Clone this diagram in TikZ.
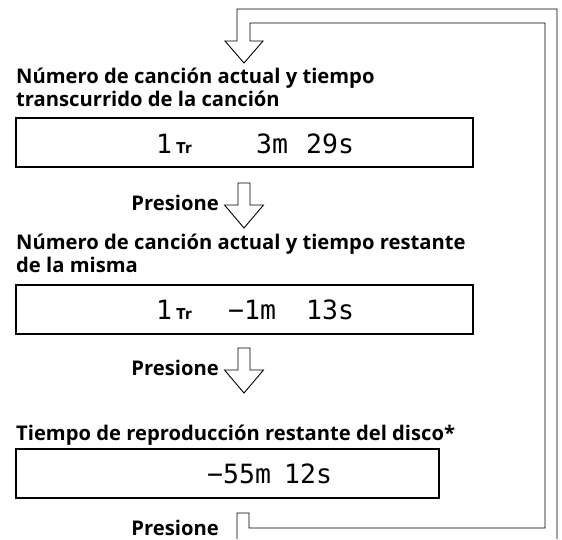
\documentclass[tikz,border=0pt]{standalone}
\usepackage{fontspec}
\setmainfont{Open Sans}
\newfontfamily\lcdfont{DejaVu Sans Mono}
\newfontfamily\trfont{DejaVu Sans Condensed}
\tikzset{
  title/.style={anchor=base west, inner sep=0pt, font=\bfseries\fontsize{20.2}{24}\selectfont},
  presslabel/.style={anchor=base east, inner sep=0pt, font=\bfseries\fontsize{20.2}{24}\selectfont},
  lcdbox/.style={draw, line width=1.6pt, anchor=north west, inner sep=0pt, minimum height=49pt},
  lcdtext/.style={anchor=base west, inner sep=0pt, font=\lcdfont\fontsize{26.5}{30}\selectfont},
  trtext/.style={anchor=base, inner sep=0pt, font=\trfont\bfseries\fontsize{15}{17}\selectfont},
  pipeline/.style={draw, line width=0.9pt, line join=miter},
  hollowdown/.pic={\draw[pipeline] (-6,0) -- (6,0) -- (6,22) -- (19.5,22) -- (0,45) -- (-19.5,22) -- (-6,22) -- cycle;}
}
\begin{document}
\begin{tikzpicture}[x=1pt,y=-1pt]
\useasboundingbox (0,0) rectangle (562,539);

% titles
\node[title] (t1a) at (16,83) {Número de canción actual y tiempo};
\node[title] (t1b) at (16,106) {transcurrido de la canción};
\node[title] (t2a) at (16,249) {Número de canción actual y tiempo restante};
\node[title] (t2b) at (16,272) {de la misma};
\node[title] (t3) at (16,440) {Tiempo de reproducción restante del disco*};

% boxes
\node[lcdbox, minimum width=457pt] (b1) at (15,117) {};
\node[lcdbox, minimum width=457pt] (b2) at (15,284) {};
\node[lcdbox, minimum width=423pt] (b3) at (15,448) {};

% box contents
\node[lcdtext, anchor=base] (b1one) at (164,153) {1};
\node[trtext] (b1tr) at (184,153) {T\kern-0.5pt r};
\node[lcdtext] (b1min) at (256,153) {3m};
\node[lcdtext] (b1sec) at (306,153) {29s};
\node[lcdtext, anchor=base] (b2one) at (164,319) {1};
\node[trtext] (b2tr) at (184,319) {T\kern-0.5pt r};
\node[lcdtext] (b2min) at (228,319) {−1m};
\node[lcdtext] (b2sec) at (306,319) {13s};
\node[lcdtext] (b3min) at (207,483) {−55m};
\node[lcdtext] (b3sec) at (284,483) {12s};

% press labels and arrows
\node[presslabel] (p1) at (219,210) {Presione};
\node[presslabel] (p2) at (219,375) {Presione};
\node[presslabel] (p3) at (219,535) {Presione};
\pic at (244,183) {hollowdown};
\pic at (244,348) {hollowdown};

% loop pipe back to the top
\coordinate (lo1) at (557,539);
\coordinate (lo2) at (557,9);
\coordinate (lo3) at (237,9);
\coordinate (hl) at (237,41);
\coordinate (hll) at (225,41);
\coordinate (tip) at (244,63);
\coordinate (hrr) at (263,41);
\coordinate (hr) at (250,41);
\coordinate (li1) at (250,23);
\coordinate (li2) at (545,23);
\coordinate (li3) at (545,528);
\coordinate (li4) at (249,528);
\coordinate (cap1) at (249,513);
\coordinate (cap2) at (237,513);
\coordinate (lo0) at (237,539);
\draw[pipeline] (lo1) -- (lo2) -- (lo3) -- (hl) -- (hll) -- (tip) -- (hrr) -- (hr) -- (li1) -- (li2) -- (li3) -- (li4) -- (cap1) -- (cap2) -- (lo0);
\end{tikzpicture}
\end{document}
